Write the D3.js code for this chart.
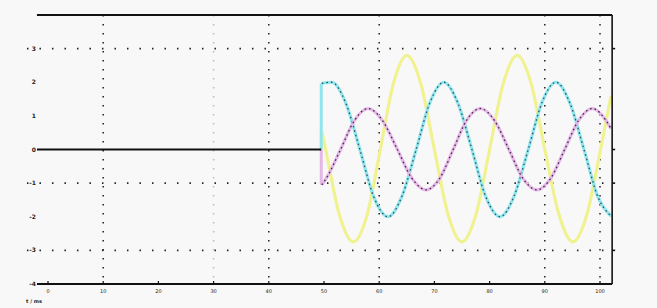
<!DOCTYPE html>
<html>
<head>
<meta charset="utf-8">
<script src="https://cdn.jsdelivr.net/npm/d3@7"></script>
<style>
  body { margin: 0; background: #f8f8f8; }
  svg { display: block; }
  .tick-label { font-family: "DejaVu Sans", sans-serif; fill: #222; }
</style>
</head>
<body>
<svg id="chart" width="657" height="308"></svg>
<script>
// # DATA
// # ------------------------------
var xTicks      = [0, 1, 2, 3, 4, 5, 6, 7, 8, 9, 10];
var xTickLabels = ["0", "10", "20", "30", "40", "50", "60", "70", "80", "90", "100"];
var yTicks      = [3, 2, 1, 0, -1, -2, -3, -4];
var yTickLabels = ["3", "2", "1", "0", "-1", "-2", "-3", "-4"];
var gridX       = [1, 3, 4, 6, 9, 10];
var gridY       = [3, -1, -3];
var onset       = 4.95;

// phase A (cyan)
var cyanT = [4.96, 5.14, 5.39, 5.65, 5.90, 6.16, 6.41, 6.67, 6.92, 7.17, 7.42, 7.68,
             7.93, 8.19, 8.44, 8.70, 8.95, 9.20, 9.45, 9.71, 9.96, 10.2];
var cyanV = [1.97, 2.0, 1.4, 0, -1.4, -2.0, -1.4, 0, 1.4, 2.0, 1.4, 0,
             -1.4, -2.0, -1.4, 0, 1.4, 2.0, 1.4, 0, -1.4, -1.98];
// phase B (magenta)
var magT  = [4.96, 5.04, 5.30, 5.55, 5.80, 6.06, 6.33, 6.59, 6.85, 7.10, 7.34, 7.58,
             7.83, 8.09, 8.35, 8.60, 8.86, 9.11, 9.36, 9.61, 9.86, 10.11, 10.2];
var magV  = [-1.05, -0.86, 0, 0.86, 1.22, 0.86, 0, -0.85, -1.2, -0.85, 0, 0.86,
             1.22, 0.86, 0, -0.85, -1.2, -0.85, 0, 0.86, 1.22, 0.86, 0.62];
// phase C (yellow)
var yelT  = [4.96, 5.03, 5.28, 5.53, 5.78, 6.02, 6.26, 6.50, 6.75, 7.00, 7.25, 7.50,
             7.75, 8.00, 8.25, 8.50, 8.75, 9.00, 9.26, 9.51, 9.76, 10.01, 10.2];
var yelV  = [0.55, 0, -1.95, -2.75, -1.95, 0, 1.98, 2.8, 1.98, 0, -1.95, -2.75,
             -1.95, 0, 1.98, 2.8, 1.98, 0, -1.95, -2.75, -1.95, 0, 1.6];

// # SCALES
// # ------------------------------
var svg = d3.select("#chart");
var x = d3.scaleLinear().domain([0, 10]).range([48, 600]);
var y = d3.scaleLinear().domain([-4, 4]).range([284, 15]);
var xMin = -0.2, xMax = 10.22;

// ## grid
// # ------------------------------
svg.selectAll(".gy").data(gridY).enter().append("line")
  .attr("x1", x(xMin) - 10).attr("x2", x(xMax))
  .attr("y1", d => y(d)).attr("y2", d => y(d))
  .attr("stroke", "#222").attr("stroke-width", 1.6)
  .attr("stroke-dasharray", "1.5,11");

svg.selectAll(".gx").data(gridX).enter().append("line")
  .attr("x1", d => x(d)).attr("x2", d => x(d))
  .attr("y1", y(4)).attr("y2", y(-4))
  .attr("stroke", d => d == 3 ? "#bbb" : "#222").attr("stroke-width", 1.5)
  .attr("stroke-dasharray", "1.5,7.5");

// ## signals
// # ------------------------------
var toPts = function(ts, vs) { return ts.map((t, i) => [t, vs[i]]); };
var line = d3.line().x(d => x(d[0])).y(d => y(d[1])).curve(d3.curveMonotoneX);

var series = [
  { pts: toPts(yelT, yelV),   light: "#f0f290", dark: null },
  { pts: toPts(cyanT, cyanV), light: "#90e6ee", dark: "#2e5560" },
  { pts: toPts(magT, magV),   light: "#e4b8e6", dark: "#4e2452" }
];

series.forEach(function(s) {
  // onset jump from zero
  svg.append("line")
    .attr("x1", x(onset)).attr("x2", x(onset))
    .attr("y1", y(0)).attr("y2", y(s.pts[0][1]))
    .attr("stroke", s.light).attr("stroke-width", 3);
  svg.append("path").datum(s.pts)
    .attr("d", line).attr("fill", "none")
    .attr("stroke", s.light).attr("stroke-width", 3.2);
  if (s.dark) {
    svg.append("path").datum(s.pts)
      .attr("d", line).attr("fill", "none")
      .attr("stroke", s.dark).attr("stroke-width", 1.3)
      .attr("stroke-dasharray", "1.6,3");
  }
});

// ## frame
// # ------------------------------
svg.append("line").attr("x1", x(xMin)).attr("x2", x(xMax))
  .attr("y1", y(4)).attr("y2", y(4)).attr("stroke", "#111").attr("stroke-width", 2);
svg.append("line").attr("x1", x(xMin)).attr("x2", x(xMax))
  .attr("y1", y(-4)).attr("y2", y(-4)).attr("stroke", "#111").attr("stroke-width", 2);
svg.append("line").attr("x1", x(xMin)).attr("x2", x(onset))
  .attr("y1", y(0)).attr("y2", y(0)).attr("stroke", "#111").attr("stroke-width", 2);
svg.append("line").attr("x1", x(xMax)).attr("x2", x(xMax))
  .attr("y1", y(4)).attr("y2", y(-4)).attr("stroke", "#111").attr("stroke-width", 1.6);

// right side ticks
svg.selectAll(".rt").data([3, 0, -1, -3]).enter().append("line")
  .attr("x1", x(xMax)).attr("x2", x(xMax) + 3)
  .attr("y1", d => y(d)).attr("y2", d => y(d))
  .attr("stroke", "#111").attr("stroke-width", 1.6);

// bottom ticks
svg.selectAll(".bt").data(xTicks).enter().append("line")
  .attr("x1", d => x(d)).attr("x2", d => x(d))
  .attr("y1", y(-4) - 3).attr("y2", y(-4))
  .attr("stroke", "#111").attr("stroke-width", 1.2);

// ## labels
// # ------------------------------
svg.selectAll(".xl").data(xTicks).enter().append("text")
  .attr("class", "tick-label")
  .attr("x", d => x(d)).attr("y", y(-4) + 9)
  .attr("text-anchor", "middle").style("font-size", "5px")
  .text((d, i) => xTickLabels[i]);

svg.selectAll(".yl").data(yTicks).enter().append("text")
  .attr("class", "tick-label")
  .attr("x", 36).attr("y", d => y(d) + 2)
  .attr("text-anchor", "end").style("font-size", "6px").style("font-weight", "bold")
  .text((d, i) => yTickLabels[i]);

svg.append("text").attr("class", "tick-label")
  .attr("x", 26).attr("y", 303)
  .style("font-size", "5px").style("font-weight", "bold")
  .text("t / ms");
</script>
</body>
</html>
